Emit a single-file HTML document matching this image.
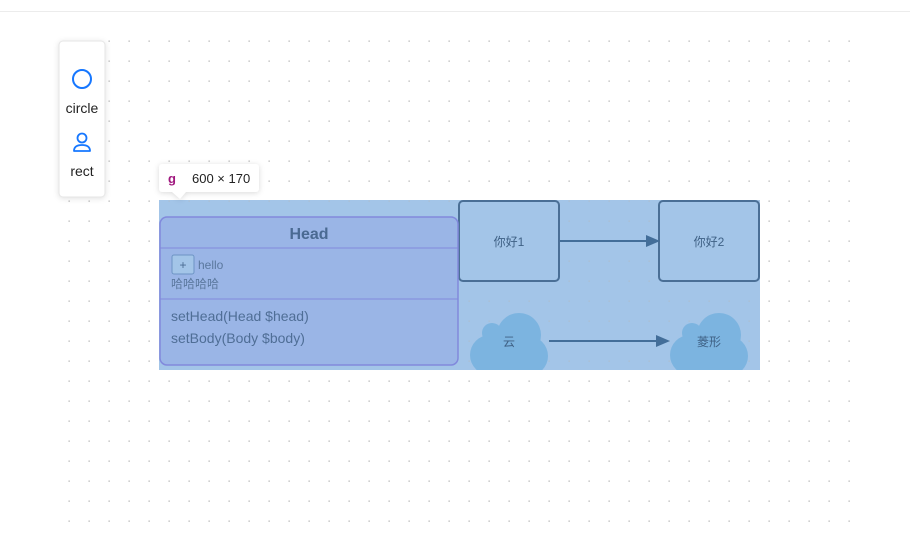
<!DOCTYPE html>
<html><head><meta charset="utf-8"><style>
body{margin:0;background:#fff;width:910px;height:543px;overflow:hidden;font-family:"Liberation Sans","Noto Sans CJK SC",sans-serif}
</style></head><body>
<svg width="910" height="543" xmlns="http://www.w3.org/2000/svg" style="position:absolute;left:0;top:0;font-family:'Liberation Sans','Noto Sans CJK SC',sans-serif">
<defs>
<pattern id="dots" x="68" y="40" width="20" height="20" patternUnits="userSpaceOnUse"><rect x="0.5" y="0.5" width="1.3" height="1.3" fill="#b5b5b5"/></pattern>
<clipPath id="clip"><rect x="159" y="200" width="601" height="170"/></clipPath>
</defs>
<line x1="0" y1="11.5" x2="910" y2="11.5" stroke="#ececec"/>
<rect x="60" y="34" width="795" height="494" fill="url(#dots)"/>
<!-- toolbar -->
<rect x="59" y="41" width="46" height="156" rx="4" fill="#fff" stroke="#e6e6e6" style="filter:drop-shadow(0 1px 3px rgba(0,0,0,.12))"/>
<circle cx="82" cy="79" r="9" fill="none" stroke="#1677ff" stroke-width="2"/>
<text x="82" y="113" font-size="14" text-anchor="middle" fill="#222">circle</text>
<circle cx="82" cy="138" r="4.5" fill="none" stroke="#1677ff" stroke-width="1.8"/>
<path d="M74 151 Q74 145 82 145 Q90 145 90 151 Z" fill="none" stroke="#1677ff" stroke-width="1.8" stroke-linejoin="round"/>
<text x="82" y="176" font-size="14" text-anchor="middle" fill="#222">rect</text>
<!-- group -->
<rect x="159" y="200" width="601" height="170" fill="#a3c5e8"/>
<rect x="159" y="200" width="601" height="170" fill="url(#dots)" opacity="0.5"/>
<g clip-path="url(#clip)">
<!-- clouds -->
<g fill="#7cb4e0">
<circle cx="519" cy="335" r="22"/><circle cx="492" cy="333" r="10"/><circle cx="490" cy="355" r="20"/><circle cx="528" cy="356" r="20"/><rect x="480" y="340" width="60" height="35"/>
<circle cx="719" cy="335" r="22"/><circle cx="692" cy="333" r="10"/><circle cx="690" cy="355" r="20"/><circle cx="728" cy="356" r="20"/><rect x="680" y="340" width="60" height="35"/>
</g>
</g>
<text x="509" y="346" font-size="12" text-anchor="middle" fill="#3f6185">云</text>
<text x="709" y="346" font-size="12" text-anchor="middle" fill="#3f6185">菱形</text>
<line x1="549" y1="341" x2="658" y2="341" stroke="#436e99" stroke-width="2"/>
<path d="M656 335 L670 341 L656 347 Z" fill="#436e99"/>
<!-- boxes -->
<rect x="459" y="201" width="100" height="80" rx="4" fill="#a3c5e8" stroke="#4a6f96" stroke-width="2"/>
<text x="509" y="246" font-size="12" text-anchor="middle" fill="#3f6185">你好1</text>
<rect x="659" y="201" width="100" height="80" rx="4" fill="#a3c5e8" stroke="#4a6f96" stroke-width="2"/>
<text x="709" y="246" font-size="12" text-anchor="middle" fill="#3f6185">你好2</text>
<line x1="560" y1="241" x2="648" y2="241" stroke="#436e99" stroke-width="2"/>
<path d="M646 235 L660 241 L646 247 Z" fill="#436e99"/>
<!-- Head class -->
<rect x="160" y="217" width="298" height="148" rx="7" fill="#9ab5e6" stroke="#8189dc" stroke-width="1.5"/>
<line x1="160" y1="248" x2="458" y2="248" stroke="#8189dc" stroke-width="1"/>
<line x1="160" y1="299" x2="458" y2="299" stroke="#8189dc" stroke-width="1"/>
<text x="309" y="239" font-size="16" font-weight="bold" text-anchor="middle" fill="#4a6a92">Head</text>
<rect x="172" y="255" width="22" height="19" rx="2" fill="#a3c5e8" stroke="#6d94c4"/>
<text x="183" y="269" font-size="12" text-anchor="middle" fill="#4a6a92">+</text>
<text x="198" y="269" font-size="12" fill="#5b789e">hello</text>
<text x="171" y="288" font-size="12" fill="#5b789e">哈哈哈哈</text>
<text x="171" y="321" font-size="14" fill="#4f6e96">setHead(Head $head)</text>
<text x="171" y="343" font-size="14" fill="#4f6e96">setBody(Body $body)</text>
<!-- tooltip -->
<g style="filter:drop-shadow(0 1px 3px rgba(0,0,0,.15))">
<rect x="159" y="164" width="100" height="28" rx="3" fill="#fff"/>
<path d="M172 192 L180 199 L186 192 Z" fill="#fff"/>
</g>
<text x="168" y="183" font-size="13" font-weight="bold" fill="#a0187e">g</text>
<text x="192" y="183" font-size="13" fill="#222">600 × 170</text>
</svg>
</body></html>
